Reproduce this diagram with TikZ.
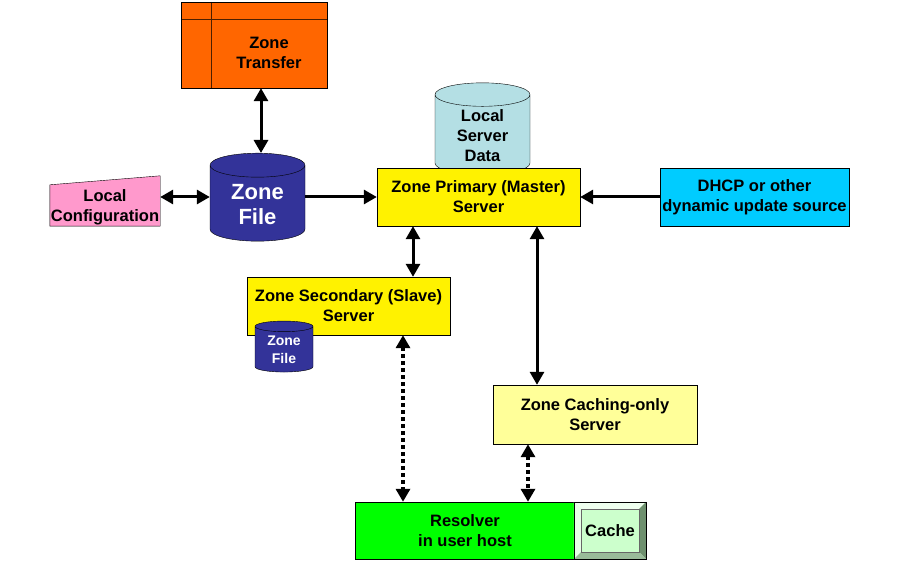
\documentclass[tikz,border=0pt]{standalone}
\usepackage{fontspec}
\setmainfont{Liberation Sans}
\usepackage{tikz}
\usetikzlibrary{arrows.meta,shapes.geometric}

\definecolor{ztorange}{HTML}{FF6600}
\definecolor{zfblue}{HTML}{333399}
\definecolor{cfgpink}{HTML}{FF99CC}
\definecolor{lsdblue}{HTML}{B4DFE4}
\definecolor{dhcpblue}{HTML}{00CCFF}
\definecolor{cacheyellow}{HTML}{FFFF99}
\definecolor{cachegreen}{HTML}{CCFFCC}
\definecolor{bevellight}{HTML}{EEFFEE}
\definecolor{beveldark}{HTML}{6E906E}
\definecolor{bevelmid}{HTML}{99BB99}

\begin{document}
\begin{tikzpicture}[x=1pt, y=-1pt, >={Triangle[length=13pt,width=14pt]},
    block/.style={draw, rectangle, inner sep=1pt, align=center, font=\bfseries\fontsize{16.5}{20}\selectfont},
    cyl/.style={draw, cylinder, shape border rotate=90, aspect=0.44, inner sep=1pt, align=center},
    txt/.style={align=center, inner sep=0pt, font=\bfseries\fontsize{16.5}{20}\selectfont},
    link/.style={line width=3pt, <->},
    dotlink/.style={line width=3.5pt, <->, dash pattern=on 3.5pt off 3.5pt}]

    \useasboundingbox (0,0) rectangle (900,580);

    % Nodes
    \node [block, fill=ztorange, minimum width=146, minimum height=86] (ztransfer) at (254,45) {};
    \draw [black!70!ztorange] ([xshift=30]ztransfer.north west) -- ([xshift=30]ztransfer.south west);
    \draw [black!70!ztorange] ([yshift=-17]ztransfer.north west) -- ([yshift=-17]ztransfer.north east);
    \draw (ztransfer.north west) rectangle (ztransfer.south east);
    \node [txt] (ztlabel) at (269,53) {Zone\\Transfer};

    \node [cyl, fill=zfblue, text=white, minimum width=95, minimum height=88,
        font=\bfseries\fontsize{22}{25}\selectfont] (zonefile) at (257.5,204.5) {Zone\\File};

    \node [minimum width=110, minimum height=50, inner sep=0pt] (localcfg) at (105,201) {};
    \draw [fill=cfgpink] (localcfg.south west) -- (localcfg.south east) -- (localcfg.north east)
        -- ([yshift=-9]localcfg.north west) -- cycle;
    \node [txt] (cfglabel) at (105,207) {Local\\Configuration};

    \node [cyl, fill=lsdblue, minimum width=95, minimum height=92,
        font=\bfseries\fontsize{16.5}{20}\selectfont] (lsdata) at (482.5,136) {Local\\Server\\Data};

    \node [block, fill=yellow, minimum width=203, minimum height=58] (primary) at (478.5,197) {Zone Primary (Master)\\Server};
    \node [block, fill=dhcpblue, minimum width=189, minimum height=58] (dhcp) at (754.5,197) {DHCP or other\\dynamic update source};
    \node [block, fill=yellow, minimum width=203, minimum height=58] (secondary) at (348.5,306) {Zone Secondary (Slave)\\Server};
    \node [cyl, fill=zfblue, text=white, minimum width=58, minimum height=51, aspect=0.3,
        font=\bfseries\fontsize{14}{18}\selectfont] (zfsmall) at (284,350) {Zone\\File};
    \node [block, fill=cacheyellow, minimum width=204, minimum height=59] (caching) at (595,414.5) {Zone Caching-only\\Server};

    \node [block, fill=green, minimum width=220, minimum height=57] (resolver) at (465,530.5) {Resolver\\in user host};
    \node [draw, fill=cachegreen, minimum width=72, minimum height=57, inner sep=0pt] (cache) at (610,530.5) {};
    \fill [bevellight] (cache.north west) -- (cache.north east) -- ([shift={(-7pt,-7pt)}]cache.north east) -- ([shift={(7pt,-7pt)}]cache.north west) -- cycle;
    \fill [bevellight!80!cachegreen] (cache.north west) -- (cache.south west) -- ([shift={(7pt,7pt)}]cache.south west) -- ([shift={(7pt,-7pt)}]cache.north west) -- cycle;
    \fill [beveldark] (cache.north east) -- (cache.south east) -- ([shift={(-7pt,7pt)}]cache.south east) -- ([shift={(-7pt,-7pt)}]cache.north east) -- cycle;
    \fill [bevelmid] (cache.south west) -- (cache.south east) -- ([shift={(-7pt,7pt)}]cache.south east) -- ([shift={(7pt,7pt)}]cache.south west) -- cycle;
    \draw [black!60] ([shift={(7pt,-7pt)}]cache.north west) rectangle ([shift={(-7pt,7pt)}]cache.south east);
    \draw (cache.north west) rectangle (cache.south east);
    \node [txt] (cachelabel) at (cache.center) {Cache};

    % Arrows
    \draw [link] ([xshift=3.5]zonefile.north) -- ([xshift=3.5]zonefile.north |- ztransfer.south);
    \draw [link] (localcfg.east |- primary.west) -- (primary.west -| zonefile.west);
    \draw [line width=3pt, ->] (primary.west -| zonefile.east) -- (primary.west);
    \draw [line width=3pt, ->] (dhcp.west) -- (primary.east);
    \draw [link] ([xshift=-65.5]primary.south) -- ([xshift=-65.5]primary.south |- secondary.north);
    \draw [link] ([xshift=58.5]primary.south) -- ([xshift=58.5]primary.south |- caching.north);

    % Resolver queries
    \draw [dotlink] ([xshift=54.5]secondary.south) -- ([xshift=54.5]secondary.south |- resolver.north);
    \draw [dotlink] ([xshift=-67]caching.south) -- ([xshift=-67]caching.south |- resolver.north);

\end{tikzpicture}
\end{document}
